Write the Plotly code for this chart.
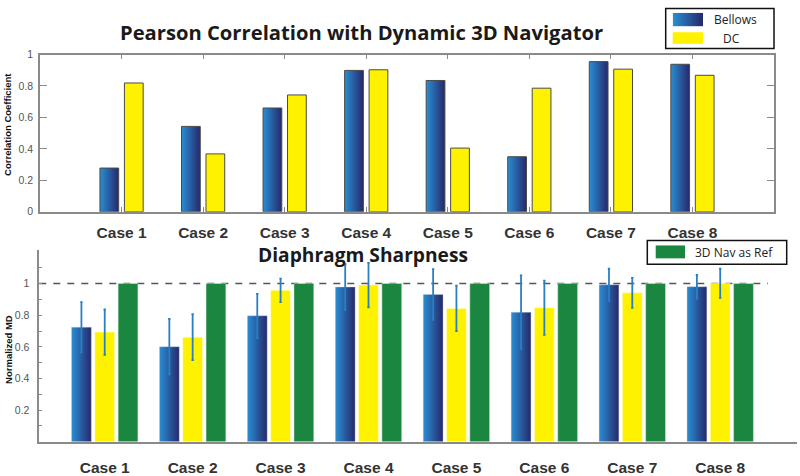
import base64
import plotly.graph_objects as go

# ---------------- data ----------------
cases = ["Case 1", "Case 2", "Case 3", "Case 4", "Case 5", "Case 6", "Case 7", "Case 8"]
case_pos = [1, 2, 3, 4, 5, 6, 7, 8]

# Pearson correlation with dynamic 3D navigator
corr_bellows = [0.278, 0.543, 0.660, 0.899, 0.835, 0.350, 0.955, 0.938]
corr_dc = [0.819, 0.368, 0.743, 0.903, 0.405, 0.786, 0.907, 0.868]

# Diaphragm sharpness (normalized MD)
md_bellows = [0.724, 0.601, 0.796, 0.978, 0.931, 0.818, 0.992, 0.980]
md_bellows_err = [0.159, 0.175, 0.139, 0.144, 0.160, 0.234, 0.102, 0.075]
md_dc = [0.693, 0.661, 0.957, 0.990, 0.843, 0.847, 0.941, 1.002]
md_dc_err = [0.143, 0.145, 0.074, 0.140, 0.143, 0.172, 0.095, 0.092]
md_ref = [1.0, 1.0, 1.0, 1.0, 1.0, 1.0, 1.0, 1.0]

top_yticks = [0, 0.2, 0.4, 0.6, 0.8, 1]
top_yticklabels = ["0", "0.2", "0.4", "0.6", "0.8", "1"]
bot_yticks = [0.1, 0.2, 0.3, 0.4, 0.5, 0.6, 0.7, 0.8, 0.9, 1.0, 1.1]
bot_yticklabels = ["", "0.2", "", "0.4", "", "0.6", "", "0.8", "", "1", ""]

# ---------------- styles ----------------
BLUE_L = "#2a8ed4"
BLUE_R = "#26286a"
YELLOW = "#fff200"
GREEN = "#1b8640"
ERR = "#2a7fc4"
AXIS = "#8a8a8a"
grad = [[0, BLUE_L], [1, BLUE_R]]

W, H = 800, 476


def px_x(p):
    return p / W


def px_y(p):
    return 1 - p / H


fig = go.Figure()

# ---------- top chart ----------
bw_top = 0.23
off_b_top = -0.265
off_d_top = 0.035
for c, v in zip(case_pos, corr_bellows):
    l, r = c + off_b_top, c + off_b_top + bw_top
    fig.add_trace(go.Scatter(
        x=[l, r, r, l, l], y=[0, 0, v, v, 0], mode="lines", fill="toself",
        fillgradient=dict(type="horizontal", colorscale=grad),
        line=dict(color="#4a4a4a", width=1), showlegend=False,
        hoverinfo="skip", xaxis="x", yaxis="y"))
fig.add_trace(go.Bar(
    x=case_pos, y=corr_dc, width=bw_top, offset=off_d_top,
    marker=dict(color=YELLOW, line=dict(color="#4a4a4a", width=1)),
    name="DC", showlegend=False, xaxis="x", yaxis="y"))

# ---------- bottom chart ----------
bw_bot = 0.225
off_b_bot = -0.265 - bw_bot / 2
off_d_bot = -bw_bot / 2
off_g_bot = 0.265 - bw_bot / 2
for c, v in zip(case_pos, md_bellows):
    l, r = c + off_b_bot, c + off_b_bot + bw_bot
    fig.add_trace(go.Scatter(
        x=[l, r, r, l, l], y=[0, 0, v, v, 0], mode="lines", fill="toself",
        fillgradient=dict(type="horizontal", colorscale=grad),
        line=dict(color="rgba(200,210,230,0.6)", width=0.6), showlegend=False,
        hoverinfo="skip", xaxis="x2", yaxis="y2"))
fig.add_trace(go.Bar(
    x=case_pos, y=md_dc, width=bw_bot, offset=off_d_bot,
    marker=dict(color=YELLOW, line=dict(color="rgba(255,255,220,0.8)", width=0.6)),
    showlegend=False, xaxis="x2", yaxis="y2"))
fig.add_trace(go.Bar(
    x=case_pos, y=md_ref, width=bw_bot, offset=off_g_bot,
    marker=dict(color=GREEN, line=dict(color="rgba(210,235,215,0.8)", width=0.6)),
    showlegend=False, xaxis="x2", yaxis="y2"))
# error bars
fig.add_trace(go.Scatter(
    x=[c + off_b_bot + bw_bot / 2 for c in case_pos], y=md_bellows, mode="markers",
    marker=dict(size=1, opacity=0),
    error_y=dict(type="data", array=md_bellows_err, color=ERR, thickness=1.8, width=1.2),
    showlegend=False, hoverinfo="skip", xaxis="x2", yaxis="y2"))
fig.add_trace(go.Scatter(
    x=[c + off_d_bot + bw_bot / 2 for c in case_pos], y=md_dc, mode="markers",
    marker=dict(size=1, opacity=0),
    error_y=dict(type="data", array=md_dc_err, color=ERR, thickness=1.8, width=1.2),
    showlegend=False, hoverinfo="skip", xaxis="x2", yaxis="y2"))

case_font = dict(family="Liberation Sans", size=15.5, color="#333333")
num_font = dict(family="Liberation Sans", size=10.5, color="#555555")

fig.update_layout(
    width=W, height=H,
    margin=dict(l=0, r=0, t=0, b=0),
    paper_bgcolor="white", plot_bgcolor="white",
    barmode="overlay",
    xaxis=dict(domain=[px_x(40), px_x(774)], range=[0, 9], tickvals=case_pos,
               ticktext=[f"<b>{c}</b>" for c in cases], tickfont=case_font,
               ticks="inside", ticklen=5, tickcolor=AXIS, ticklabelstandoff=6,
               showline=True, linecolor=AXIS, linewidth=1.5, mirror="ticks",
               showgrid=False, zeroline=False, anchor="y"),
    yaxis=dict(domain=[px_y(212), px_y(50)], range=[0, 1], tickvals=top_yticks,
               ticktext=top_yticklabels, tickfont=num_font, ticks="inside",
               ticklen=7, tickcolor=AXIS, ticklabelstandoff=3,
               showline=True, linecolor=AXIS, linewidth=1.5, mirror="ticks",
               showgrid=False, zeroline=False, anchor="x"),
    xaxis2=dict(domain=[px_x(39.3), px_x(796.7)], range=[0.256, 8.87],
                tickvals=case_pos, ticktext=[f"<b>{c}</b>" for c in cases],
                tickfont=case_font, ticks="", ticklabelstandoff=11,
                showline=True, linecolor=AXIS, linewidth=1.5,
                showgrid=False, zeroline=False, anchor="y2"),
    yaxis2=dict(domain=[px_y(449), px_y(251.7)], range=[0, 1.21],
                tickvals=bot_yticks, ticktext=bot_yticklabels, tickfont=num_font,
                ticks="inside", ticklen=3, tickcolor=AXIS, ticklabelstandoff=6,
                showline=True, linecolor=AXIS, linewidth=1.5,
                showgrid=False, zeroline=False, anchor="x2"),
)

# dashed reference line at 1
fig.add_shape(type="line", xref="x2 domain", yref="y2", x0=0, x1=(768 - 39.3) / (796.7 - 39.3),
              y0=1, y1=1, line=dict(color="#555555", width=1.6, dash="7px,7px"), layer="below")

fig.add_annotation(text="<b>Pearson Correlation with Dynamic 3D Navigator</b>",
                   xref="paper", yref="paper", x=px_x(361.5), y=px_y(27),
                   xanchor="center", yanchor="middle", showarrow=False,
                   font=dict(family="Open Sans", size=20.2, color="#1a1a1a"))
fig.add_annotation(text="<b>Diaphragm Sharpness</b>",
                   xref="paper", yref="paper", x=px_x(362.8), y=px_y(256),
                   xanchor="center", yanchor="middle", showarrow=False,
                   font=dict(family="Open Sans", size=19.2, color="#1a1a1a"))

ytitle_font = dict(family="Liberation Sans", size=9.5, color="#111111")
fig.add_annotation(text="<b>Correlation Coefficient</b>", textangle=-90,
                   xref="paper", yref="paper", x=px_x(7.5), y=px_y(122),
                   xanchor="center", yanchor="middle", showarrow=False, font=ytitle_font)
fig.add_annotation(text="<b>Normalized MD</b>", textangle=-90,
                   xref="paper", yref="paper", x=px_x(8.3), y=px_y(354),
                   xanchor="center", yanchor="middle", showarrow=False, font=ytitle_font)

# ---------- custom legends ----------
leg_font = dict(family="Open Sans", size=12, color="#222222")
# top legend box
fig.add_shape(type="rect", xref="paper", yref="paper",
              x0=px_x(665.7), x1=px_x(774), y0=px_y(43.7), y1=px_y(2.7),
              line=dict(color="#111111", width=1.5), fillcolor="rgba(0,0,0,0)")
svg = ('<svg xmlns="http://www.w3.org/2000/svg" width="60" height="28" preserveAspectRatio="none">'
       '<defs><linearGradient id="g" x1="0" x2="1" y1="0" y2="0">'
       f'<stop offset="0" stop-color="{BLUE_L}"/><stop offset="1" stop-color="{BLUE_R}"/>'
       '</linearGradient></defs><rect width="60" height="28" fill="url(#g)"/></svg>')
fig.add_layout_image(source="data:image/svg+xml;base64," + base64.b64encode(svg.encode()).decode(),
                     xref="paper", yref="paper", x=px_x(672.7), y=px_y(7),
                     sizex=30.3 / W, sizey=14 / H, xanchor="left", yanchor="top",
                     sizing="stretch", layer="above")
fig.add_shape(type="rect", xref="paper", yref="paper",
              x0=px_x(672.7), x1=px_x(703), y0=px_y(39), y1=px_y(27),
              line=dict(width=0), fillcolor=YELLOW)
fig.add_annotation(text="Bellows", xref="paper", yref="paper", x=px_x(735.5), y=px_y(14),
                   xanchor="center", yanchor="middle", showarrow=False, font=leg_font)
fig.add_annotation(text="DC", xref="paper", yref="paper", x=px_x(731.5), y=px_y(34),
                   xanchor="center", yanchor="middle", showarrow=False, font=leg_font)
# bottom legend box
fig.add_shape(type="rect", xref="paper", yref="paper",
              x0=px_x(647.3), x1=px_x(786.7), y0=px_y(266), y1=px_y(241.7),
              line=dict(color="#111111", width=1.5), fillcolor="rgba(0,0,0,0)")
fig.add_shape(type="rect", xref="paper", yref="paper",
              x0=px_x(655.7), x1=px_x(685), y0=px_y(260), y1=px_y(246.7),
              line=dict(width=0), fillcolor=GREEN)
fig.add_annotation(text="3D Nav as Ref", xref="paper", yref="paper", x=px_x(734), y=px_y(254),
                   xanchor="center", yanchor="middle", showarrow=False, font=leg_font)

fig.write_html("out.html", config={"displayModeBar": False},
               post_script="document.body.style.margin='0';document.body.style.overflow='hidden';")
